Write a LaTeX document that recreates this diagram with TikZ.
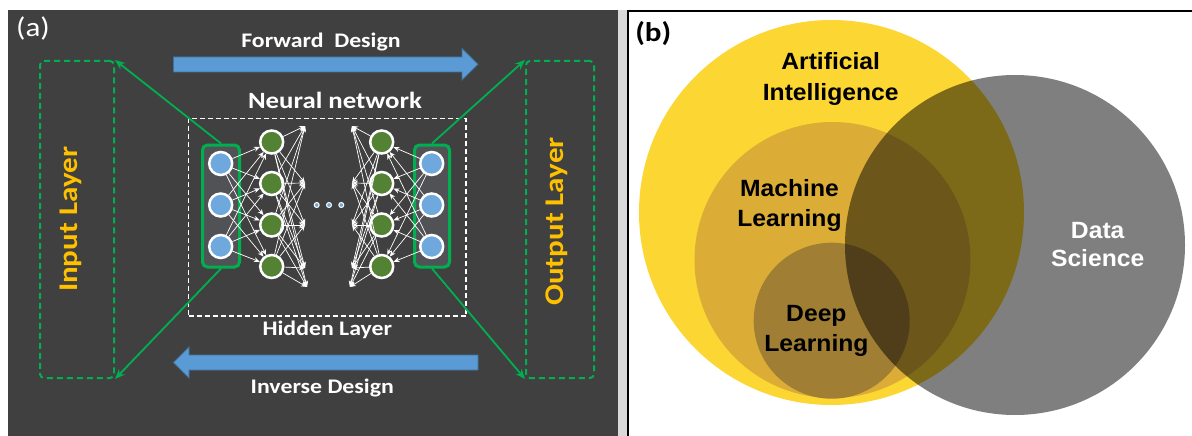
\documentclass[tikz,border=0pt]{standalone}
\usepackage{fontspec}
\usetikzlibrary{arrows.meta}
\newfontfamily\calfont[FakeStretch=1.15]{Carlito}
\newfontfamily\helvfont[FakeStretch=1.05]{Liberation Sans}
\definecolor{panelbg}{HTML}{404040}
\definecolor{stripgray}{HTML}{D9D9D9}
\definecolor{lgreen}{HTML}{00B050}
\definecolor{barblue}{HTML}{5B9BD5}
\definecolor{barblueedge}{HTML}{41719C}
\definecolor{nodeblue}{HTML}{6FA8DC}
\definecolor{nodegreen}{HTML}{548235}
\definecolor{layergold}{HTML}{FFC000}
\definecolor{rectfill}{HTML}{505256}
\definecolor{aiyellow}{HTML}{FCD632}
\definecolor{mlgold}{HTML}{DBAD36}
\definecolor{dlbrown}{HTML}{A07E33}
\begin{document}
\begin{tikzpicture}[x=1pt,y=-1pt,
  caplabel/.style={font=\calfont\bfseries\fontsize{20.7}{24}\selectfont, text=white, anchor=base, inner sep=0},
  sidelabel/.style={font=\calfont\bfseries\fontsize{27}{30}\selectfont, text=layergold, anchor=base, rotate=90, inner sep=0},
  innode/.style={circle, fill=nodeblue, draw=white, line width=2.5pt, minimum size=23pt, inner sep=0},
  hidnode/.style={circle, fill=nodegreen, draw=white, line width=2.5pt, minimum size=23pt, inner sep=0},
  dotnode/.style={circle, fill=nodeblue, draw=white, line width=1pt, minimum size=5pt, inner sep=0},
  layerbox/.style={rectangle, rounded corners=5pt, fill=rectfill, draw=lgreen, line width=3pt, minimum width=37pt, minimum height=122pt, inner sep=0},
  sidebox/.style={rectangle, rounded corners=4pt, draw=lgreen, line width=2pt, dash pattern=on 6pt off 4pt, minimum height=317pt, inner sep=0},
  wire/.style={white, line width=0.7pt, -{Stealth[length=6pt,width=5pt]}},
  link/.style={lgreen, line width=1.8pt, -{Stealth[length=10pt,width=8pt]}},
  bigarrow/.style={fill=barblue, draw=barblueedge, line width=0.8pt},
  venn/.style={circle, inner sep=0},
  vlabel/.style={font=\helvfont\bfseries\fontsize{23.5}{28}\selectfont, anchor=base, inner sep=0}]
\useasboundingbox (0,0) rectangle (1192,436);
\fill[white] (0,0) rectangle (1192,436);

% ---------------- panel (a) ----------------
\fill[panelbg] (8,10) rectangle (618,436);
\fill[stripgray] (618,10) rectangle (626.5,436);

\node[font=\calfont\fontsize{27}{30}\selectfont, text=white, anchor=base, inner sep=0] (tagA) at (33,37) {(a)};

% design-direction arrows
\path[bigarrow] (173.5,57) -- (462,57) -- (462,48.5) -- (478,64.3) -- (462,80) -- (462,72) -- (173.5,72) -- cycle;
\path[bigarrow] (478,355) -- (189,355) -- (189,347) -- (173.5,362.5) -- (189,378) -- (189,370) -- (478,370) -- cycle;
\node[caplabel] (fwd) at (321,47.7) {Forward\ \ Design};
\node[caplabel] (inv) at (322.3,393.3) {Inverse Design};
\node[caplabel, font=\calfont\bfseries\fontsize{23.3}{26}\selectfont] (nnlabel) at (335,108.3) {Neural network};
\node[caplabel] (hidlabel) at (327.3,335) {Hidden Layer};

% outer layer frames
\node[sidebox, minimum width=74pt] (inbox) at (77,219.5) {};
\node[sidebox, minimum width=68pt] (outbox) at (560,219.5) {};
\node[sidelabel] (inlabel) at (77.4,219.5) {Input Layer};
\node[sidelabel] (outlabel) at (563.4,221.5) {Output Layer};

% network frame
\node[draw=white, line width=1.3pt, dash pattern=on 5pt off 3pt, minimum width=277.5pt, minimum height=197.5pt, inner sep=0] (nnbox) at (327.25,217.25) {};

% input and output columns
\node[layerbox] (inrect) at (221,206) {};
\node[layerbox, minimum width=35pt] (outrect) at (432,206) {};

\foreach \k/\y in {1/163.5,2/205,3/246.5} {
  \node[innode] (in\k) at (220.7,\y) {};
  \node[innode] (out\k) at (431.7,\y) {};
}
\foreach \k/\y in {1/142,2/183.5,3/225,4/266.5} {
  \node[hidnode] (h\k) at (271.7,\y) {};
  \node[hidnode] (g\k) at (381.7,\y) {};
}
\node[dotnode] (dot1) at (316.7,205) {};
\node[dotnode] (dot2) at (329,205) {};
\node[dotnode] (dot3) at (341.3,205) {};

% free ends of the fanned connections
\foreach \k/\xl/\xr/\y in {1/305/352/126,2/305/352/183,3/305/352/225,4/305/352/268,5/307/350/287} {
  \coordinate (tl\k) at (\xl,\y);
  \coordinate (tr\k) at (\xr,\y);
}

\foreach \i in {1,2,3} {
  \foreach \j in {1,2,3,4} {
    \draw[wire] (in\i) -- (h\j);
    \draw[wire] (out\i) -- (g\j);
  }
}
\foreach \i in {1,2,3,4} {
  \foreach \j in {1,2,3,4,5} {
    \draw[wire] (h\i) -- (tl\j);
    \draw[wire] (g\i) -- (tr\j);
  }
}

% links to the outer frames
\draw[link] (inrect.north) -- (inbox.north east);
\draw[link] (inrect.south) -- (inbox.south east);
\draw[link] (outrect.north) -- (outbox.north west);
\draw[link] (outrect.south) -- (outbox.south west);

% ---------------- panel (b) ----------------
\draw[line width=2.2pt] (627.8,436) -- (627.8,10.8) -- (1192,10.8);
\node[font=\calfont\bfseries\fontsize{27}{30}\selectfont, anchor=base, inner sep=0] (tagB) at (653.3,41.7) {(b)};

\node[venn, fill=aiyellow, minimum size=385pt] (ai) at (831.5,212.5) {};
\node[venn, fill=mlgold, minimum size=276pt] (ml) at (832.5,260) {};
\node[venn, fill=dlbrown, minimum size=156pt] (dl) at (831.7,320.7) {};
\node[venn, fill=black, fill opacity=0.5, minimum size=340pt] (ds) at (1015,245) {};

\node[vlabel] (ai1) at (830.7,70) {Artificial};
\node[vlabel] (ai2) at (830.7,100) {Intelligence};
\node[vlabel] (ml1) at (789.5,196.7) {Machine};
\node[vlabel] (ml2) at (789.5,226.7) {Learning};
\node[vlabel] (dl1) at (816.4,321.7) {Deep};
\node[vlabel] (dl2) at (816.4,351.7) {Learning};
\node[vlabel, text=white] (ds1) at (1097.7,238.3) {Data};
\node[vlabel, text=white] (ds2) at (1097.7,266.7) {Science};
\end{tikzpicture}
\end{document}
